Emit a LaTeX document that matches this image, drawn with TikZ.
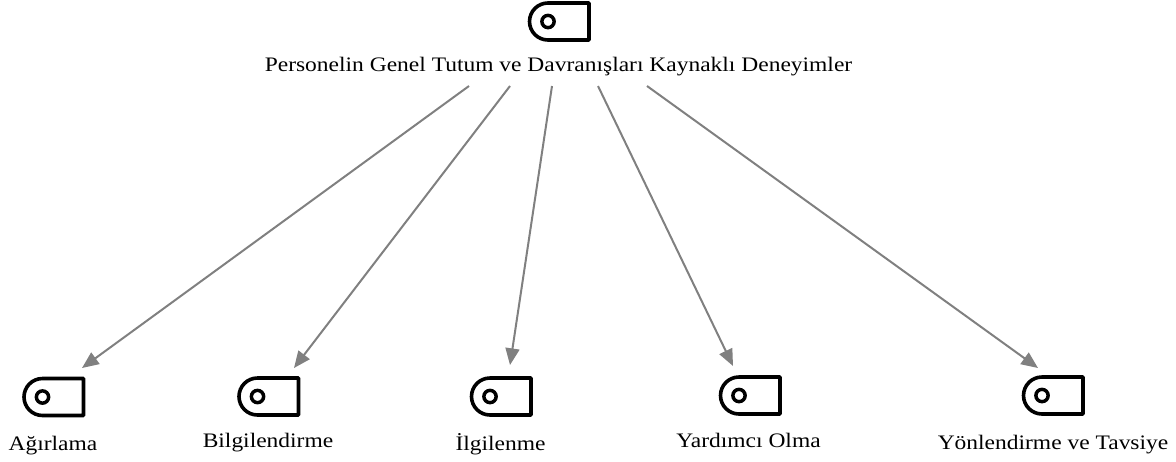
\documentclass[tikz,border=0pt]{standalone}
\usepackage{fontspec}
\setmainfont[FakeStretch=1.14]{Liberation Serif}
\usetikzlibrary{arrows.meta}
\definecolor{conn}{HTML}{808080}
\tikzset{
  x=0.75pt,y=-0.75pt,
  label text/.style={anchor=base,inner sep=0pt,font=\fontsize{15.45pt}{18pt}\selectfont,text=black},
  icon box/.style={inner sep=0pt,minimum width=45pt,minimum height=27.75pt},
  conn line/.style={draw=conn,line width=1.5pt,-{Triangle[length=12.5pt,width=10.5pt]}},
  icon pic/.pic={
    \draw[line width=2.7pt,line join=round] (30,-18.5) -- (-11,-18.5) arc[start angle=90,end angle=270,radius=18.5*0.75pt] -- (30,18.5) -- cycle;
    \draw[line width=2.6pt] (-11,0) circle[radius=4.6pt];
  }
}
\begin{document}
\begin{tikzpicture}
\useasboundingbox (0,0) rectangle (1176,461);
\node[label text] (title) at (558.5,71) {Personelin Genel Tutum ve Davranışları Kaynaklı Deneyimler};
\node[icon box] (top) at (559,21.5) {};
\pic at (top) {icon pic};
\node[icon box] (ic1) at (53.5,397) {};
\pic at (ic1) {icon pic};
\node[icon box] (ic2) at (268.5,396.5) {};
\pic at (ic2) {icon pic};
\node[icon box] (ic3) at (501,396.5) {};
\pic at (ic3) {icon pic};
\node[icon box] (ic4) at (750,395.5) {};
\pic at (ic4) {icon pic};
\node[icon box] (ic5) at (1053,395.5) {};
\pic at (ic5) {icon pic};
\node[label text] (l1) at (53,450) {Ağırlama};
\node[label text] (l2) at (268,447.5) {Bilgilendirme};
\node[label text] (l3) at (500.5,450) {İlgilenme};
\node[label text] (l4) at (748.5,447.5) {Yardımcı Olma};
\node[label text] (l5) at (1053,449) {Yönlendirme ve Tavsiye};
\coordinate (t1) at (469,86);
\coordinate (t2) at (510,86);
\coordinate (t3) at (552,86);
\coordinate (t4) at (598,86);
\coordinate (t5) at (647,86);
\coordinate (h1) at (82,368);
\coordinate (h2) at (294,368);
\coordinate (h3) at (510,365);
\coordinate (h4) at (733,366);
\coordinate (h5) at (1038,368);
\draw[conn line] (t1) -- (h1);
\draw[conn line] (t2) -- (h2);
\draw[conn line] (t3) -- (h3);
\draw[conn line] (t4) -- (h4);
\draw[conn line] (t5) -- (h5);
\end{tikzpicture}
\end{document}
